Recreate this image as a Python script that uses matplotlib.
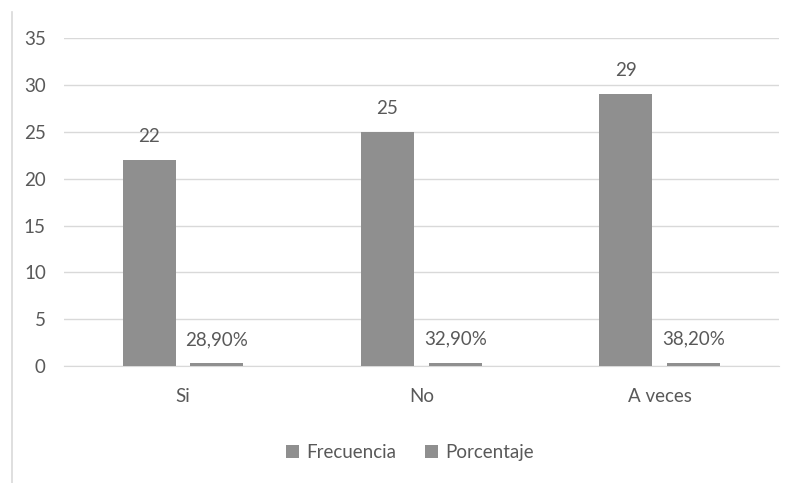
import numpy as np
import matplotlib.pyplot as plt
from matplotlib.lines import Line2D

categories = ["Si", "No", "A veces"]
frecuencia = [22, 25, 29]
porcentaje = [0.289, 0.329, 0.382]
porcentaje_labels = ["28,90%", "32,90%", "38,20%"]

bar_color = "#8f8f8f"
text_color = "#595959"
plt.rcParams['font.family'] = ['Lato', 'DejaVu Sans']

fig = plt.figure(figsize=(7.89, 4.83), dpi=100)
ax = fig.add_axes([0.081, 0.242, 0.906, 0.679])

x = np.arange(len(categories))
w = 0.223
off = 0.142
b1 = ax.bar(x - off, frecuencia, w, color=bar_color, label="Frecuencia", zorder=3)
b2 = ax.bar(x + off, porcentaje, w, color=bar_color, label="Porcentaje", zorder=3)

for rect, v in zip(b1, frecuencia):
    ax.annotate(str(v), (rect.get_x() + rect.get_width() / 2, rect.get_height()),
                xytext=(0, 11), textcoords="offset points", ha="center", va="bottom",
                fontsize=13.5, color=text_color)
for rect, s in zip(b2, porcentaje_labels):
    ax.annotate(s, (rect.get_x() + rect.get_width() / 2, rect.get_height()),
                xytext=(0, 11), textcoords="offset points", ha="center", va="bottom",
                fontsize=13.5, color=text_color)

ax.set_xlim(-0.5, 2.5)
ax.set_ylim(0, 35)
ax.set_yticks(range(0, 36, 5))
ax.set_xticks(x)
ax.set_xticklabels(categories)
ax.tick_params(axis="both", length=0, labelsize=13.5, colors=text_color)
ax.tick_params(axis="x", pad=16)
ax.tick_params(axis="y", pad=13)
ax.grid(axis="y", color="#d9d9d9", linewidth=1, zorder=0)
for s in ["top", "right", "left"]:
    ax.spines[s].set_visible(False)
ax.spines["bottom"].set_color("#d9d9d9")

leg = ax.legend(loc="upper center", bbox_to_anchor=(0.484, -0.185), ncol=2, frameon=False,
                fontsize=13.5, handlelength=0.7, handleheight=0.7, handletextpad=0.4,
                columnspacing=1.5)
for t in leg.get_texts():
    t.set_color(text_color)

fig.add_artist(Line2D([12 / 789, 12 / 789], [0, 1 - 12 / 483], color="#d9d9d9",
                      linewidth=1.2, transform=fig.transFigure))

fig.savefig("out.png", dpi=100)
